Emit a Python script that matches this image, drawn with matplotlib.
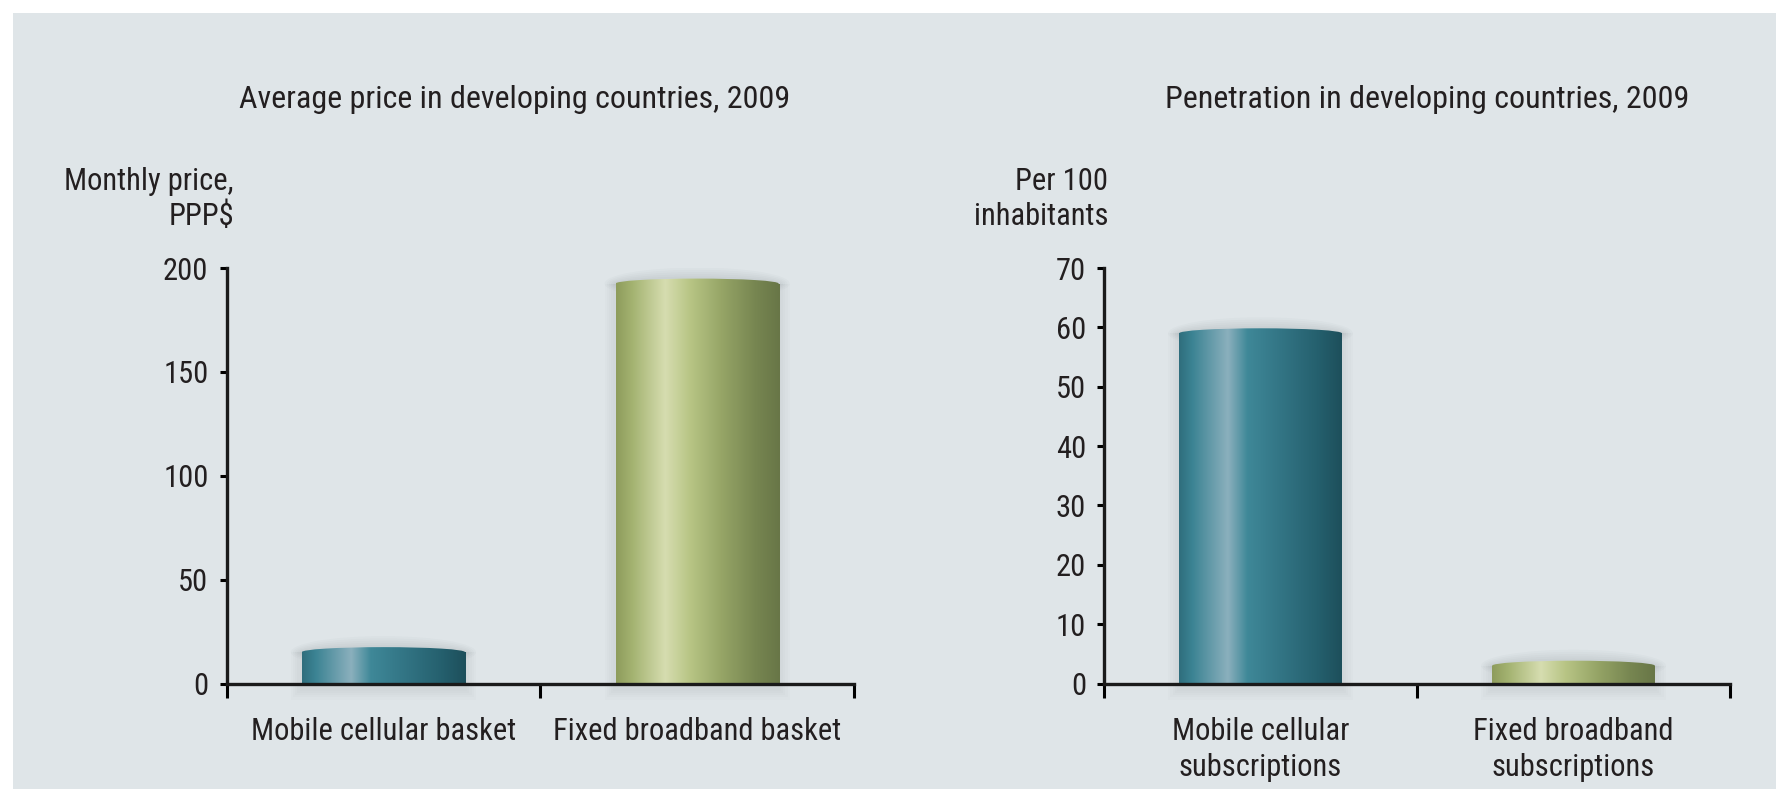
import numpy as np
import matplotlib.pyplot as plt
from matplotlib import font_manager
from matplotlib.colors import LinearSegmentedColormap
from matplotlib.patches import Ellipse, Rectangle

# data
price_title = 'Average price in developing countries, 2009'
price_cats = ['Mobile cellular basket', 'Fixed broadband basket']
price_vals = [15.1, 192.5]
price_ticks = [0, 50, 100, 150, 200]

pen_title = 'Penetration in developing countries, 2009'
pen_cats = ['Mobile cellular\nsubscriptions', 'Fixed broadband\nsubscriptions']
pen_vals = [59.0, 3.0]
pen_ticks = [0, 10, 20, 30, 40, 50, 60, 70]

teal = LinearSegmentedColormap.from_list('teal', [
    (0.0, '#2f6e7d'), (0.08, '#3b8393'), (0.3, '#8bb0bd'), (0.42, '#3f8898'),
    (0.6, '#347787'), (0.85, '#25606e'), (1.0, '#1d4f5b')])
olive = LinearSegmentedColormap.from_list('olive', [
    (0.0, '#8e9c5c'), (0.1, '#a4b371'), (0.3, '#d6ddb0'), (0.45, '#b8c585'),
    (0.65, '#95a466'), (0.85, '#778651'), (1.0, '#687647')])

W, H = 1776, 789


def pick_font(names):
    for n in names:
        try:
            font_manager.findfont(font_manager.FontProperties(family=n),
                                  fallback_to_default=False)
            return n
        except Exception:
            pass
    return 'DejaVu Sans'


font = pick_font(['Roboto Condensed', 'Liberation Sans Narrow', 'Lato'])
plt.rcParams['font.family'] = [font, 'DejaVu Sans']
txt = '#231f20'
fs = 22
fs_title = 23

fig = plt.figure(figsize=(W / 100, H / 100), dpi=100)
fig.patches.append(Rectangle((13 / W, 0), 1, 1 - 13 / H, transform=fig.transFigure,
                             facecolor='#dfe5e8', edgecolor='none', zorder=-10))

gradient = np.linspace(0, 1, 256).reshape(1, -1)


def px_to_data(ax, px):
    inv = ax.transData.inverted()
    return abs(inv.transform((0, px))[1] - inv.transform((0, 0))[1]), \
        abs(inv.transform((px, 0))[0] - inv.transform((0, 0))[0])


def cylinder(ax, x, h, bw, cmap):
    ax.bar([x], [h], width=bw, color='none', edgecolor='none')
    ch, _ = px_to_data(ax, 10)
    x0, x1 = x - bw / 2, x + bw / 2
    # soft shadow round the bar
    for k in range(1, 6):
        dy, dx = px_to_data(ax, 2.2 * k)
        ax.add_patch(Ellipse((x, h), bw + 2 * dx, ch + 2 * dy, facecolor='#6d7478',
                             edgecolor='none', alpha=0.035, zorder=1))
        ax.add_patch(Rectangle((x0 - dx, -ch / 2 - dy), bw + 2 * dx, h + ch / 2 + dy,
                               facecolor='#6d7478', edgecolor='none', alpha=0.02,
                               zorder=1, clip_on=False))
    body = ax.imshow(gradient, cmap=cmap, extent=(x0, x1, 0, h), aspect='auto', zorder=2)
    body.set_clip_path(Rectangle((x0, 0), bw, h, transform=ax.transData))
    bottom = ax.imshow(gradient, cmap=cmap, extent=(x0, x1, -ch / 2, ch / 2),
                       aspect='auto', zorder=2)
    bottom.set_clip_path(Ellipse((x, 0), bw, ch, transform=ax.transData))
    bottom.set_clip_box(None)
    top = ax.imshow(gradient, cmap=cmap, extent=(x0, x1, h - ch / 2, h + ch / 2),
                    aspect='auto', zorder=3)
    top.set_clip_path(Ellipse((x, h), bw, ch, transform=ax.transData))
    top.set_clip_box(None)


def panel(rect, cats, vals, ticks, cmaps):
    ax = fig.add_axes(rect)
    ax.set_facecolor('none')
    ax.set_xlim(0, 2)
    ax.set_ylim(0, ticks[-1])
    for i, v in enumerate(vals):
        cylinder(ax, i + 0.5, v, 0.52, cmaps[i])
    ax.set_xlim(0, 2)
    ax.set_ylim(0, ticks[-1])
    for s in ['top', 'right']:
        ax.spines[s].set_visible(False)
    for s in ['left', 'bottom']:
        ax.spines[s].set_linewidth(2.4)
        ax.spines[s].set_color('#1a1a1a')
        ax.spines[s].set_zorder(5)
    ax.set_yticks(ticks)
    ax.tick_params(axis='y', length=5, width=2.2, pad=8, labelsize=fs, labelcolor=txt)
    ax.set_xticks([0, 1, 2])
    ax.set_xticklabels([])
    ax.tick_params(axis='x', which='major', length=10, width=2.2)
    ax.set_xticks([0.5, 1.5], minor=True)
    ax.set_xticklabels(cats, minor=True, fontsize=fs, color=txt, linespacing=1.32)
    ax.tick_params(axis='x', which='minor', length=0, pad=24)
    return ax


ax1 = panel([226.5 / W, 1 - 683.5 / H, 627.5 / W, 415.5 / H], price_cats, price_vals,
            price_ticks, [teal, olive])
ax2 = panel([1104 / W, 1 - 683.5 / H, 626 / W, 415.5 / H], pen_cats, pen_vals,
            pen_ticks, [teal, olive])

fig.text(515 / W, 1 - 99 / H, price_title, ha='center', va='center', fontsize=fs_title,
         color=txt)
fig.text(1427 / W, 1 - 99 / H, pen_title, ha='center', va='center', fontsize=fs_title,
         color=txt)
fig.text(234 / W, 1 - 199 / H, 'Monthly price,\nPPP$', ha='right', va='center',
         fontsize=fs, color=txt, multialignment='right', linespacing=1.25)
fig.text(1108 / W, 1 - 199 / H, 'Per 100\ninhabitants', ha='right', va='center',
         fontsize=fs, color=txt, multialignment='right', linespacing=1.25)

fig.savefig('out.png', dpi=100, facecolor='white')
